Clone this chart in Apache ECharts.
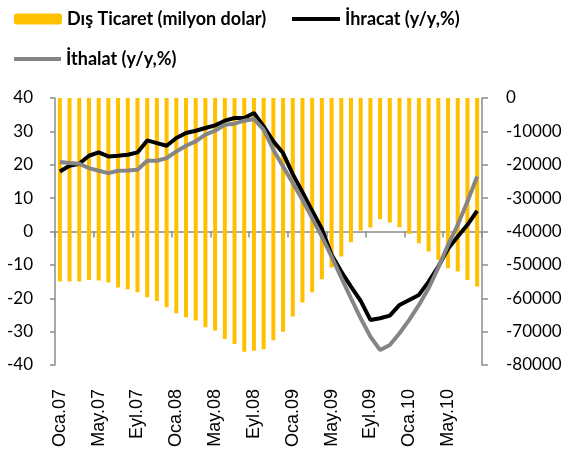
<!DOCTYPE html>
<html>
<head>
<meta charset="utf-8">
<script src="https://cdn.jsdelivr.net/npm/echarts@6/dist/echarts.min.js"></script>
<style>
  html, body { margin: 0; padding: 0; background: #fff; }
  #chart { width: 569px; height: 458px; }
</style>
</head>
<body>
<div id="chart"></div>
<script>
// aylar (Oca.07 - Ağu.10)
var aylar = [
  'Oca.07', 'Şub.07', 'Mar.07', 'Nis.07', 'May.07', 'Haz.07', 'Tem.07', 'Ağu.07', 'Eyl.07', 'Eki.07', 'Kas.07', 'Ara.07',
  'Oca.08', 'Şub.08', 'Mar.08', 'Nis.08', 'May.08', 'Haz.08', 'Tem.08', 'Ağu.08', 'Eyl.08', 'Eki.08', 'Kas.08', 'Ara.08',
  'Oca.09', 'Şub.09', 'Mar.09', 'Nis.09', 'May.09', 'Haz.09', 'Tem.09', 'Ağu.09', 'Eyl.09', 'Eki.09', 'Kas.09', 'Ara.09',
  'Oca.10', 'Şub.10', 'Mar.10', 'Nis.10', 'May.10', 'Haz.10', 'Tem.10', 'Ağu.10'
]
// dış ticaret dengesi (milyon dolar) - sağ eksen
var disTicaret = [
  -55000, -55000, -55000, -54500, -54700, -55300, -56800, -57300, -58200, -59700, -60800, -62700,
  -64500, -65700, -66700, -68700, -69700, -72200, -73700, -76000, -75700, -75300, -72600, -70000,
  -65500, -61300, -58200, -54300, -50800, -47500, -43200, -39700, -38800, -36300, -37300, -38700,
  -40700, -43500, -46000, -48500, -51000, -52000, -54500, -56500
]
// ihracat yıllık değişim (%)
var ihracat = [
  18, 19.7, 20.3, 22.7, 23.7, 22.5, 22.7, 23, 23.7, 27.3, 26.5, 25.7,
  28, 29.5, 30.2, 31, 31.8, 33.2, 34, 34, 35.5, 31.5, 27, 23.5,
  17.2, 11.8, 6.2, 0.8, -7, -12, -16.5, -20.8, -26.5, -26, -25.2, -22,
  -20.5, -19, -15, -10.5, -5.2, -1.5, 2, 6.2
]
// ithalat yıllık değişim (%)
var ithalat = [
  20.8, 20.5, 20.3, 19, 18.2, 17.5, 18.2, 18.3, 18.5, 21.2, 21.2, 22,
  24, 25.7, 27, 29, 30.2, 32, 32.3, 33.2, 33.7, 30.5, 24.5, 19.5,
  14.5, 9.5, 4, -1.5, -7.5, -13.8, -20, -26, -31.5, -35.5, -34, -30.5,
  -26.5, -22, -17, -10.8, -4, 2, 9, 16.5
]

var chart = echarts.init(document.getElementById('chart'))
var eksenRengi = '#8c8c8c'
var legendText = { fontFamily: 'Lato', fontWeight: 'bold', fontSize: 18, color: '#000' }

var option = {
  animation: false,
  // lejant - üç parça, yerleri elle
  legend: [
    { left: 9, top: 5, itemWidth: 48, itemHeight: 11, textStyle: legendText, data: ['Dış Ticaret (milyon dolar)'] },
    { left: 287, top: 5, itemWidth: 48, itemHeight: 4, icon: 'rect', textStyle: legendText, data: ['İhracat (y/y,%)'] },
    { left: 9, top: 45, itemWidth: 47, itemHeight: 4, icon: 'rect', textStyle: legendText, data: ['İthalat (y/y,%)'] }
  ],
  grid: { left: 55, right: 87, top: 98, bottom: 93 },
  xAxis: [
    {
      // sıfır çizgisi
      type: 'category',
      data: aylar,
      axisLine: { onZero: true, lineStyle: { color: eksenRengi, width: 1.5 } },
      axisTick: { show: true, interval: 3, length: 6, lineStyle: { color: eksenRengi, width: 1.5 } },
      axisLabel: { show: false }
    },
    {
      // alttaki etiketler
      type: 'category',
      data: aylar,
      position: 'bottom',
      axisLine: { show: false, onZero: false },
      axisTick: { show: false },
      axisLabel: {
        interval: 3,
        rotate: 90,
        margin: 24,
        fontFamily: 'Liberation Sans',
        fontSize: 18,
        color: '#000'
      }
    }
  ],
  yAxis: [
    {
      type: 'value',
      min: -40,
      max: 40,
      interval: 10,
      splitLine: { show: false },
      axisLine: { show: true, lineStyle: { color: eksenRengi, width: 1.5 } },
      axisTick: { show: true, length: 5, lineStyle: { color: eksenRengi, width: 1.5 } },
      axisLabel: { margin: 22, fontFamily: 'Lato', fontSize: 17, color: '#000' }
    },
    {
      type: 'value',
      min: -80000,
      max: 0,
      interval: 10000,
      position: 'right',
      splitLine: { show: false },
      axisLine: { show: true, lineStyle: { color: eksenRengi, width: 1.5 } },
      axisTick: { show: true, length: 6, lineStyle: { color: eksenRengi, width: 1.5 } },
      axisLabel: {
        margin: 24,
        fontFamily: 'Lato',
        fontSize: 17,
        color: '#000',
        formatter: function (v) { return String(v) } // binlik ayırıcı yok
      }
    }
  ],
  series: [
    {
      name: 'Dış Ticaret (milyon dolar)',
      type: 'bar',
      yAxisIndex: 1,
      barWidth: 4,
      itemStyle: { color: '#ffc000' },
      data: disTicaret
    },
    {
      name: 'İhracat (y/y,%)',
      type: 'line',
      symbol: 'none',
      lineStyle: { color: '#000', width: 4 },
      itemStyle: { color: '#000' },
      data: ihracat
    },
    {
      name: 'İthalat (y/y,%)',
      type: 'line',
      symbol: 'none',
      lineStyle: { color: '#858585', width: 4 },
      itemStyle: { color: '#858585' },
      data: ithalat
    }
  ]
}
chart.setOption(option)
</script>
</body>
</html>
